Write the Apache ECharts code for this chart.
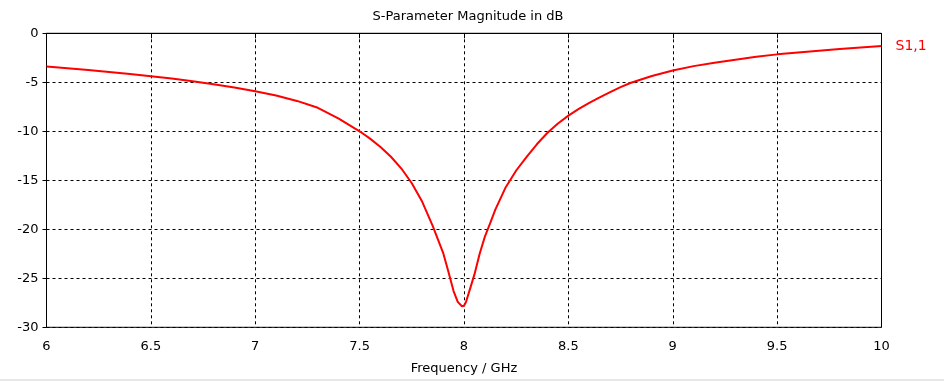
<!DOCTYPE html>
<html><head><meta charset="utf-8">
<script src="https://cdn.jsdelivr.net/npm/echarts@6/dist/echarts.min.js"></script>
<style>html,body{margin:0;padding:0;background:#fff}#c{width:944px;height:383px}</style>
</head><body><div id="c"></div>
<script>
const freqGHz = [6.0,6.1,6.2,6.3,6.4,6.5,6.6,6.7,6.8,6.9,7.0,7.1,7.2,7.3,7.4,7.5,7.55,7.6,7.65,7.7,7.75,7.8,7.85,7.9,7.925,7.95,7.97,7.99,8.0,8.01,8.03,8.05,8.075,8.1,8.125,8.15,8.2,8.25,8.3,8.35,8.4,8.45,8.5,8.55,8.6,8.65,8.7,8.75,8.8,8.9,9.0,9.1,9.2,9.3,9.4,9.5,9.6,9.7,9.8,9.9,10.0];
const s11dB = [-3.40,-3.57,-3.75,-3.94,-4.15,-4.38,-4.62,-4.89,-5.19,-5.52,-5.91,-6.35,-6.90,-7.60,-8.70,-10.0,-10.75,-11.6,-12.6,-13.8,-15.3,-17.2,-19.65,-22.4,-24.3,-26.3,-27.4,-27.85,-27.8,-27.4,-26.0,-24.6,-22.5,-20.75,-19.4,-18.0,-15.7,-14.0,-12.6,-11.3,-10.15,-9.2,-8.4,-7.72,-7.1,-6.53,-6.0,-5.5,-5.05,-4.35,-3.8,-3.35,-3.0,-2.7,-2.4,-2.15,-1.95,-1.77,-1.6,-1.45,-1.3];
const xTicks = [6,6.5,7,7.5,8,8.5,9,9.5,10];
const yTicks = [0,-5,-10,-15,-20,-25,-30];
const seriesName = 'S1,1';

const font = 'Tahoma, "DejaVu Sans", sans-serif';
const chart = echarts.init(document.getElementById('c'), null, {renderer:'canvas'});
chart.setOption({
  animation:false,
  backgroundColor:'#fff',
  title:{text:'S-Parameter Magnitude in dB', left:463, textAlign:'center', top:5,
    textStyle:{fontFamily:font, fontSize:13, fontWeight:'normal', color:'#000'}},
  grid:{left:46.5, right:62.5, top:33.3, bottom:55.7, show:true, borderColor:'#000', borderWidth:1, backgroundColor:'transparent'},
  xAxis:{type:'value', min:6, max:10, interval:0.5,
    name:'Frequency / GHz', nameLocation:'middle', nameGap:35,
    nameTextStyle:{fontFamily:font, fontSize:13, color:'#000'},
    axisLine:{lineStyle:{color:'#000', width:1}},
    axisTick:{show:true, length:5, lineStyle:{color:'#000'}},
    axisLabel:{fontFamily:font, fontSize:13, color:'#000', margin:13,
      formatter:v=>xTicks.includes(v)?String(v):''},
    splitLine:{show:true, lineStyle:{color:'#000', type:[3,3], width:1}}},
  yAxis:{type:'value', min:-30, max:0, interval:5,
    axisLine:{show:true, lineStyle:{color:'#000', width:1}},
    axisTick:{show:true, length:4, lineStyle:{color:'#000'}},
    axisLabel:{fontFamily:font, fontSize:13, color:'#000', margin:8,
      formatter:v=>yTicks.includes(v)?String(v):''},
    splitLine:{show:true, lineStyle:{color:'#000', type:[3,3], width:1}}},
  graphic:[{type:'rect', shape:{x:0,y:379,width:944,height:2}, style:{fill:'#e6e6e6'}, silent:true}],
  series:[{name:seriesName, type:'line', data:freqGHz.map((f,i)=>[f,s11dB[i]]),
    smooth:false, showSymbol:false, symbol:'none',
    lineStyle:{color:'#ff0000', width:2}, itemStyle:{color:'#ff0000'},
    endLabel:{show:true, formatter:seriesName, distance:14, color:'#ff0000', fontFamily:font, fontSize:14}}]
});
</script></body></html>
